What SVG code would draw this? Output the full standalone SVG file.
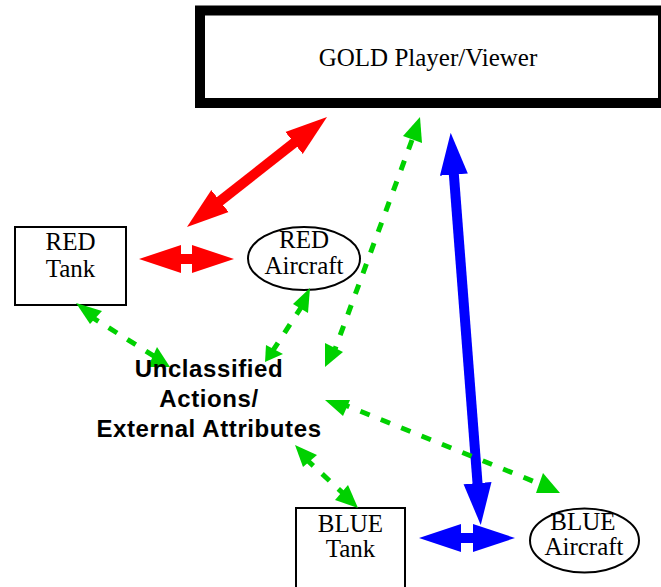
<svg xmlns="http://www.w3.org/2000/svg" width="661" height="587" viewBox="0 0 661 587">
<style>
.nd{fill:#fff;stroke:#000;stroke-width:2}
.lbl{font-family:"Liberation Serif","Times New Roman",serif;font-size:25px;fill:#000;text-anchor:middle}
.unc{font-family:"Liberation Sans",Arial,sans-serif;font-size:24px;font-weight:bold;letter-spacing:0.6px;fill:#000;text-anchor:middle}
.red{stroke:#ff0000;stroke-width:10;fill:none}
.blue{stroke:#0000ff;stroke-width:10;fill:none}
.grn{stroke:#00d100;stroke-width:5;fill:none;stroke-dasharray:10 12}
.gh{fill:#00d100}
</style>
<defs>
<marker id="hr" markerUnits="userSpaceOnUse" markerWidth="44" markerHeight="30" viewBox="0 -15 44 30" refX="1" refY="0" orient="auto-start-reverse"><path d="M0,-14 L42,0 L0,14 z" fill="#ff0000"/></marker>
<marker id="hb" markerUnits="userSpaceOnUse" markerWidth="44" markerHeight="30" viewBox="0 -15 44 30" refX="1" refY="0" orient="auto-start-reverse"><path d="M0,-14 L42,0 L0,14 z" fill="#0000ff"/></marker>
</defs>
<rect width="661" height="587" fill="#fff"/>
<g id="gold">
<rect x="200" y="10.5" width="463" height="92.5" fill="#fff" stroke="#000" stroke-width="10"/>
<text class="lbl" x="428" y="66">GOLD Player/Viewer</text>
</g>
<g id="red-tank">
<rect class="nd" x="15" y="227" width="111" height="78"/>
<text class="lbl" x="70.5" y="250">RED</text>
<text class="lbl" x="70.5" y="277">Tank</text>
</g>
<g id="red-aircraft">
<ellipse class="nd" cx="304" cy="258.5" rx="56" ry="31.5"/>
<text class="lbl" x="304" y="248">RED</text>
<text class="lbl" x="304" y="274">Aircraft</text>
</g>
<g id="blue-tank">
<rect class="nd" x="296" y="508" width="109" height="80"/>
<text class="lbl" x="350.5" y="531.5">BLUE</text>
<text class="lbl" x="350.5" y="556.5">Tank</text>
</g>
<g id="blue-aircraft">
<ellipse class="nd" cx="584.5" cy="540.5" rx="54.5" ry="32"/>
<text class="lbl" x="583" y="530">BLUE</text>
<text class="lbl" x="584" y="555">Aircraft</text>
</g>
<g id="connectors">
<path class="red" d="M219.2,201.7 L294.8,142.3" marker-start="url(#hr)" marker-end="url(#hr)"/>
<path class="red" d="M180,259 L193,259" marker-start="url(#hr)" marker-end="url(#hr)"/>
<path class="blue" d="M453.8,173.6 L477.6,484.1" marker-start="url(#hb)" marker-end="url(#hb)"/>
<path class="blue" d="M460,538 L474,538" marker-start="url(#hb)" marker-end="url(#hb)"/>
<path class="grn" d="M90,316 L157,358"/>
<path class="grn" d="M302,306 L272,352"/>
<path class="grn" d="M412,140 L334,352"/>
<path class="grn" d="M340,403 L545,486"/>
<path class="grn" d="M306,459 L347,497"/>
<polygon class="gh" points="76,303 102,311 90,324"/>
<polygon class="gh" points="157,347 148,367 170,367"/>
<polygon class="gh" points="310,288 293,304 308,313"/>
<polygon class="gh" points="266,345 283,354 265,362"/>
<polygon class="gh" points="325,343 343,352 325,367"/>
<polygon class="gh" points="420,117 403,136 422,143"/>
<polygon class="gh" points="325,400 350,400 343,416"/>
<polygon class="gh" points="295,445 317,455 303,467"/>
<polygon class="gh" points="348,485 358,508 335,500"/>
<polygon class="gh" points="543,473 560,493 536,493"/>
</g>
<g id="unclassified">
<text class="unc" x="209" y="377">Unclassified</text>
<text class="unc" x="209" y="407">Actions/</text>
<text class="unc" x="209" y="437">External Attributes</text>
</g>
</svg>
